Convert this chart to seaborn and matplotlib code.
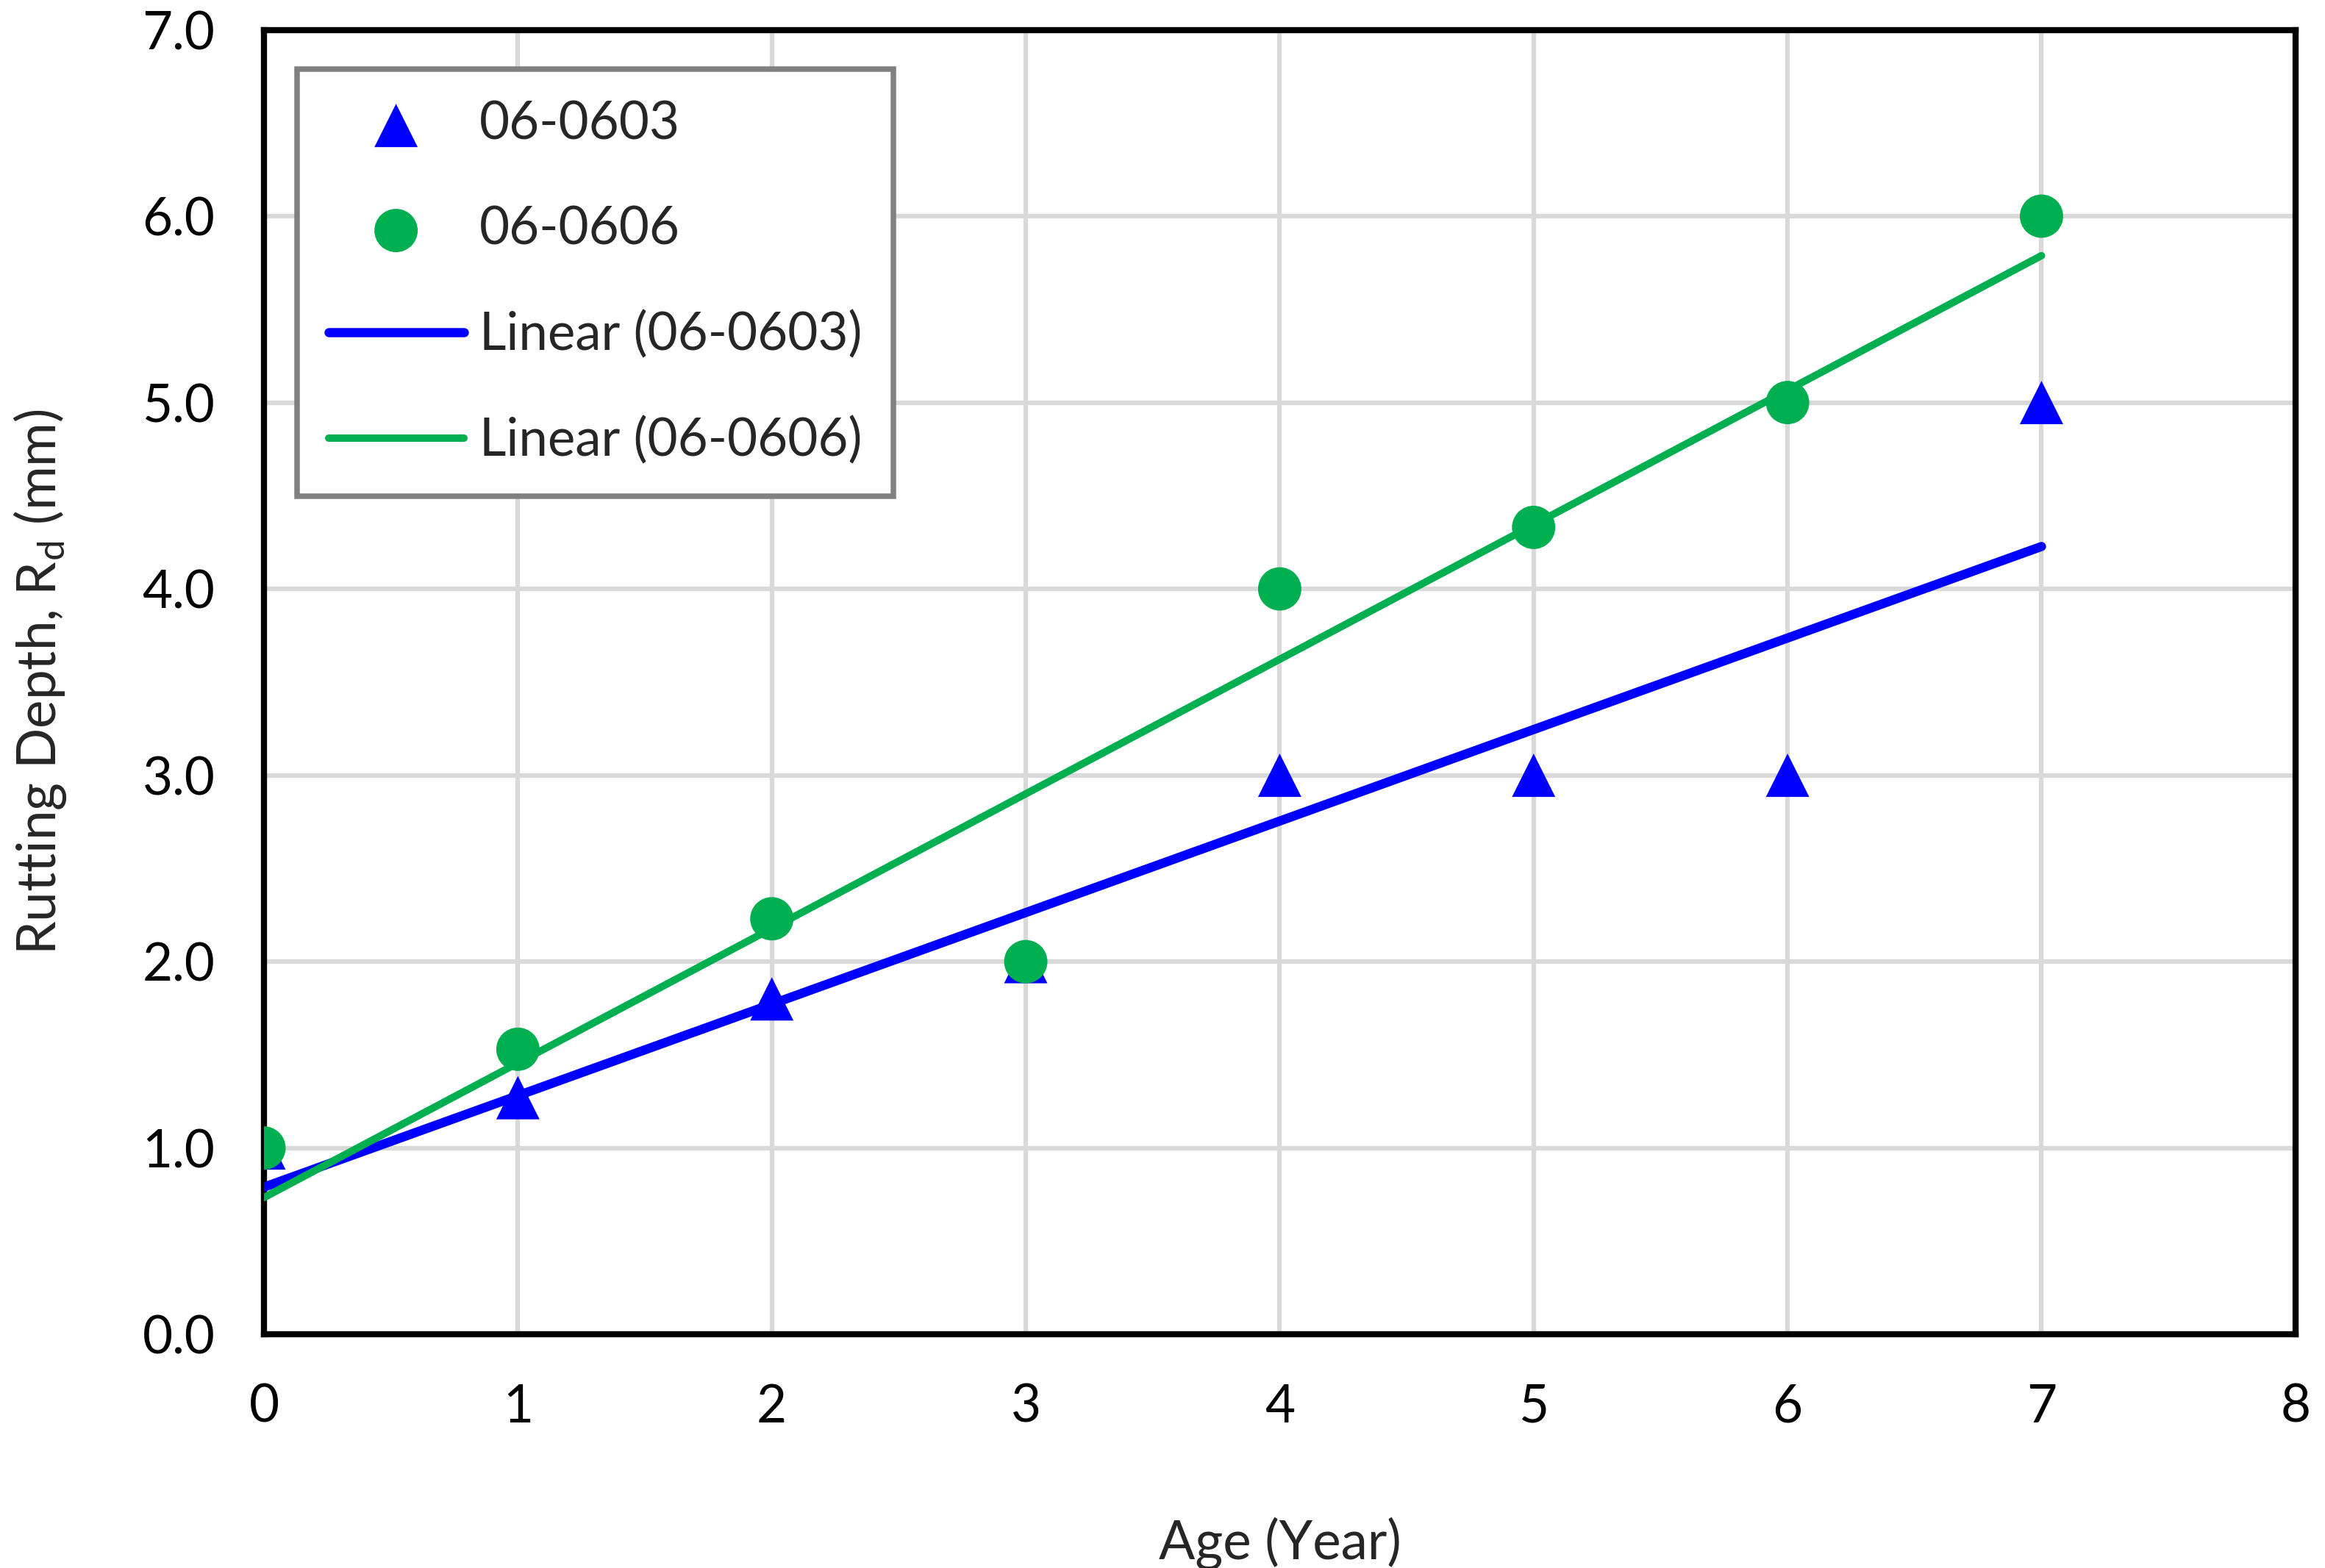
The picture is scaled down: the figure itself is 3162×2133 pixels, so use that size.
import numpy as np
import pandas as pd
import matplotlib
matplotlib.use("Agg")
import matplotlib.pyplot as plt
import seaborn as sns

# data
age = [0, 1, 2, 3, 4, 5, 6, 7]
rut_0603 = [1.0, 1.27, 1.8, 2.0, 3.0, 3.0, 3.0, 5.0]
rut_0606 = [1.0, 1.53, 2.23, 2.0, 4.0, 4.33, 5.0, 6.0]
blue = "#0000ff"
green = "#00b050"

sns.set_style("white")
plt.rcParams['font.family'] = ['Lato', 'DejaVu Sans']
plt.rcParams['mathtext.fontset'] = 'custom'
plt.rcParams['mathtext.rm'] = 'Lato'

df = pd.DataFrame({"age": age, "0603": rut_0603, "0606": rut_0606})

# linear trendlines
fit = {}
for col in ["0603", "0606"]:
    m, b = np.polyfit(df["age"], df[col], 1)
    fit[col] = pd.DataFrame({"age": [0, 7], "y": [b, b + 7 * m]})

fig = plt.figure(figsize=(10.543, 7.11), dpi=300)
ax = fig.add_axes([0.1135, 0.149, 0.8735, 0.832])

sns.lineplot(data=fit["0603"], x="age", y="y", color=blue, lw=3.0, ax=ax,
             label="Linear (06-0603)", zorder=3)
sns.lineplot(data=fit["0606"], x="age", y="y", color=green, lw=2.4, ax=ax,
             label="Linear (06-0606)", zorder=3)
sns.scatterplot(data=df, x="age", y="0603", marker="^", s=200, color=blue,
                edgecolor="none", ax=ax, label="06-0603", zorder=4)
sns.scatterplot(data=df, x="age", y="0606", marker="o", s=200, color=green,
                edgecolor="none", ax=ax, label="06-0606", zorder=5)

ax.set_xlim(0, 8)
ax.set_ylim(0, 7)
ax.set_xticks(range(0, 9))
ax.set_yticks(np.arange(0, 7.1, 1.0))
ax.set_yticklabels([f"{v:.1f}" for v in np.arange(0, 7.1, 1.0)])
ax.grid(True, color="#d9d9d9", lw=1.5)
ax.set_axisbelow(True)
for s in ax.spines.values():
    s.set_color("black")
    s.set_linewidth(2.0)
ax.tick_params(length=0, labelsize=17, pad=16, colors="black")

ax.set_xlabel("Age (Year)", fontsize=17.5, labelpad=28)
ax.set_ylabel(r"Rutting Depth, R$_{\mathregular{d}}$ (mm)", fontsize=17.5, labelpad=24)

h, l = ax.get_legend_handles_labels()
order = [l.index(k) for k in ["06-0603", "06-0606", "Linear (06-0603)", "Linear (06-0606)"]]
leg = ax.legend([h[i] for i in order], [l[i] for i in order],
                loc="upper left", bbox_to_anchor=(0.0163, 0.97), fontsize=17,
                frameon=True, fancybox=False, framealpha=1, edgecolor="#808080",
                labelspacing=1.1, borderpad=0.6, handlelength=2.6, handletextpad=0.3,
                borderaxespad=0)
leg.get_frame().set_linewidth(1.8)

fig.savefig("out.png", dpi=300)
